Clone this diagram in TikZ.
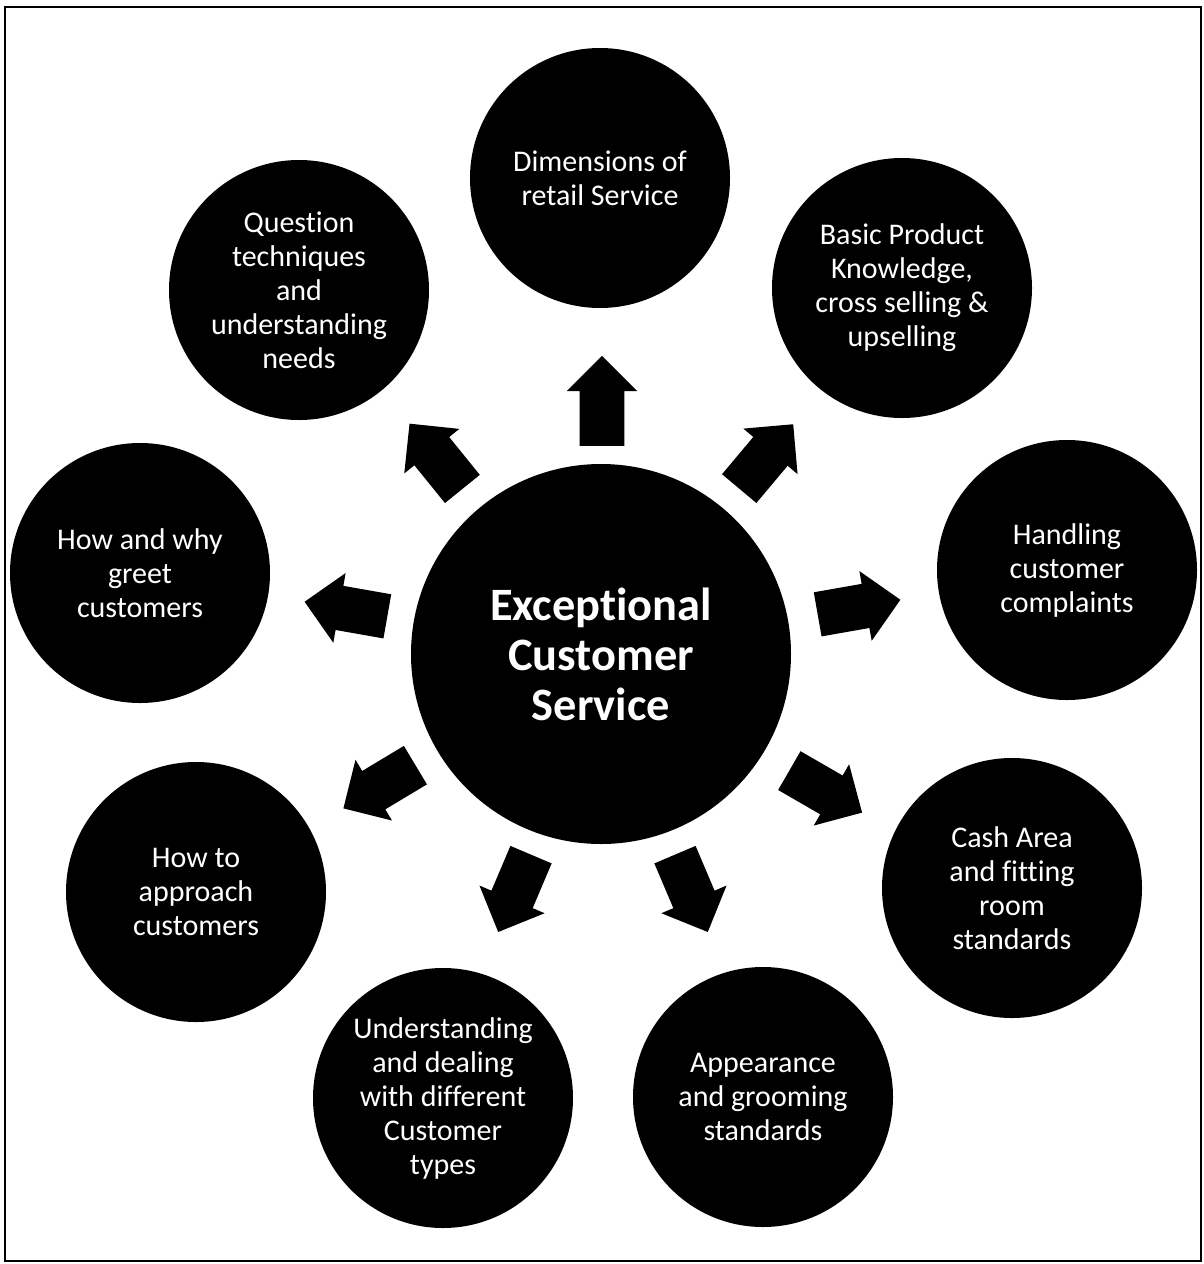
\documentclass[tikz,border=0pt]{standalone}
\usepackage{fontspec}
\setmainfont{Carlito}[RawFeature=-liga, RawFeature=-calt, RawFeature=-ccmp]
\usetikzlibrary{shapes.arrows}

\begin{document}
\begin{tikzpicture}[x=5pt,y=5pt]
\tikzstyle{every node}+=[inner sep=0pt]
\tikzstyle{topic}=[circle, fill=black, text=white, minimum size=130pt, align=center, font=\fontsize{15}{17}\selectfont]
\tikzstyle{hub}=[circle, fill=black, text=white, minimum size=190pt, align=center, font=\fontsize{23.2}{25}\selectfont\bfseries]
\tikzstyle{fatarrow}=[single arrow, fill=black, inner xsep=0pt, inner ysep=11pt, minimum height=42pt, single arrow head extend=6.5pt, single arrow tip angle=90]
\useasboundingbox (0,0) rectangle (120.4,-126.4);
\draw [black, line width=1pt] (0.5,-0.7) rectangle (120.1,-126.1);
% centre
\node [hub] (ecs) at (60.1,-65.4) {Exceptional\\Customer\\Service};
% topics, clockwise from the top
\node [topic] (dim) at (60,-17.8) {Dimensions of\\retail Service};
\node [topic] (prod) at (90.2,-28.8) {Basic Product\\Knowledge,\\cross selling \&\\upselling};
\node [topic] (compl) at (106.7,-57) {Handling\\customer\\complaints};
\node [topic] (cash) at (101.2,-88.8) {Cash Area\\and fitting\\room\\standards};
\node [topic] (groom) at (76.3,-109.7) {Appearance\\and grooming\\standards};
\node [topic] (types) at (44.3,-109.8) {Understanding\\and dealing\\with different\\Customer\\types};
\node [topic] (appr) at (19.6,-89.2) {How to\\approach\\customers};
\node [topic] (greet) at (14,-57.3) {How and why\\greet\\customers};
\node [topic] (quest) at (29.9,-29) {Question\\techniques\\and\\understanding\\needs};
% block arrows
\node [fatarrow, rotate=90, minimum height=45pt] (a1) at (60.2,-41.2) {};
\node [fatarrow, rotate=50] (a2) at (75.9,-46.5) {};
\node [fatarrow, rotate=10] (a3) at (84.8,-60.9) {};
\node [fatarrow, rotate=-30] (a4) at (81.6,-78.6) {};
\node [fatarrow, rotate=-67] (a5) at (68.7,-88.3) {};
\node [fatarrow, rotate=-113] (a6) at (51.9,-88.3) {};
\node [fatarrow, rotate=211] (a7) at (38.9,-78.1) {};
\node [fatarrow, rotate=170] (a8) at (35.7,-61.1) {};
\node [fatarrow, rotate=129] (a9) at (44.3,-46.5) {};
\end{tikzpicture}
\end{document}
